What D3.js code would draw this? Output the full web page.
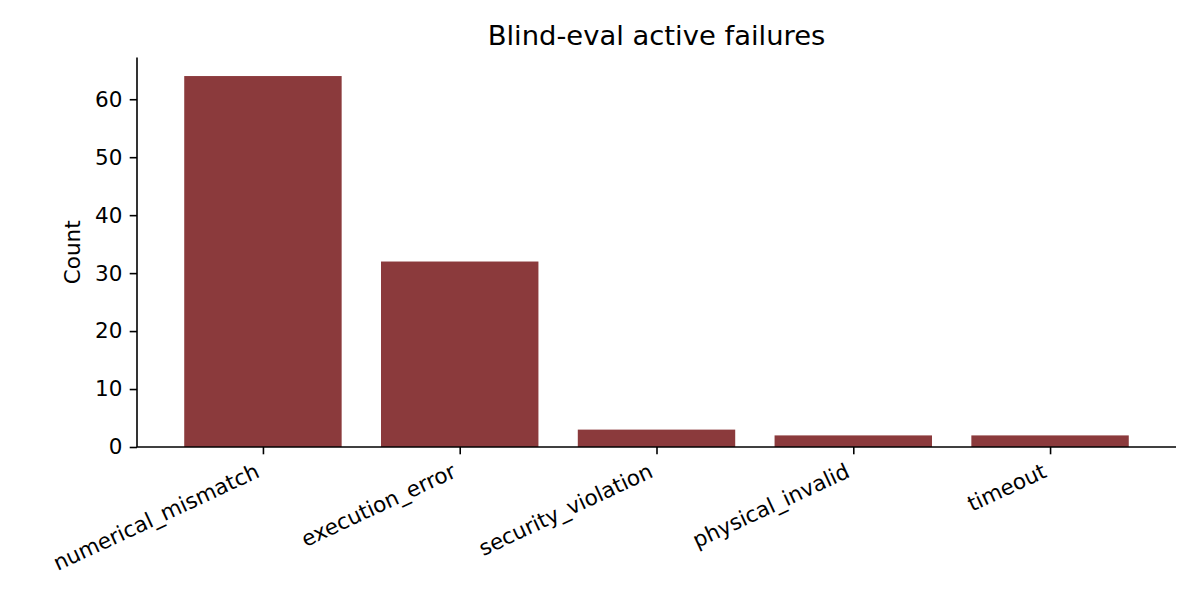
<!DOCTYPE html>
<html><head><meta charset="utf-8">
<script src="https://cdn.jsdelivr.net/npm/d3@7"></script>
<style>body{margin:0;background:#fff}text{font-family:"DejaVu Sans",sans-serif;fill:#000}</style>
</head><body>
<svg id="c" width="1200" height="608"></svg>
<script>
const categories = ["numerical_mismatch","execution_error","security_violation","physical_invalid","timeout"];
const counts = [64, 32, 3, 2, 2];
const yTicks = [0,10,20,30,40,50,60];
const title = "Blind-eval active failures";
const yLabel = "Count";

const svg = d3.select("#c");
const L = 137, R = 1176, T = 57.5, B = 447;
const n = categories.length;
const x = d3.scaleLinear().domain([-0.64, n - 1 + 0.64]).range([L, R]);
const yMax = d3.max(counts) * 1.05;
const y = d3.scaleLinear().domain([0, yMax]).range([B, T]);
const bw = 0.8;
const fs = 21.5, tl = 7.3, sw = 1.6;

svg.selectAll("rect.bar").data(counts).enter().append("rect")
  .attr("x", (d,i) => x(i - bw/2)).attr("width", (d,i) => x(i + bw/2) - x(i - bw/2))
  .attr("y", d => y(d)).attr("height", d => y(0) - y(d))
  .attr("fill", "#8b3a3c");

// y axis
const ya = svg.append("g").attr("transform", `translate(${L},0)`)
  .call(d3.axisLeft(y).tickValues(yTicks).tickSize(tl).tickPadding(tl).tickFormat(d3.format("d")));
ya.select(".domain").attr("d", `M0,${B}V${T}`).attr("stroke","#000").attr("stroke-width",sw);
ya.selectAll(".tick line").attr("stroke","#000").attr("stroke-width",sw);
ya.selectAll(".tick text").attr("font-size",fs+"px").attr("font-family","DejaVu Sans").attr("fill","#000");

// x axis
const xa = svg.append("g").attr("transform", `translate(0,${B})`)
  .call(d3.axisBottom(x).tickValues(d3.range(n)).tickSize(tl).tickFormat(""));
xa.select(".domain").attr("d", `M${L},0H${R}`).attr("stroke","#000").attr("stroke-width",sw);
xa.selectAll(".tick line").attr("stroke","#000").attr("stroke-width",sw);

const ang = 25, rad = ang*Math.PI/180;
const asc = 0.76*fs, desc = 0.24*fs;
const y0 = B + tl + tl;
svg.append("g").selectAll("text").data(categories).enter().append("text")
  .attr("font-size", fs+"px").attr("text-anchor","end")
  .attr("transform", (d,i) => `translate(${x(i) - Math.sin(rad)*desc},${y0 + Math.cos(rad)*asc}) rotate(${-ang})`)
  .text(d => d);

svg.append("text").attr("font-size",fs+"px").attr("text-anchor","middle")
  .attr("transform", `translate(80,${(T+B)/2}) rotate(-90)`).text(yLabel);

svg.append("text").attr("font-size","27.4px").attr("text-anchor","middle")
  .attr("x", (L+R)/2).attr("y", 45).text(title);
</script>
</body></html>
